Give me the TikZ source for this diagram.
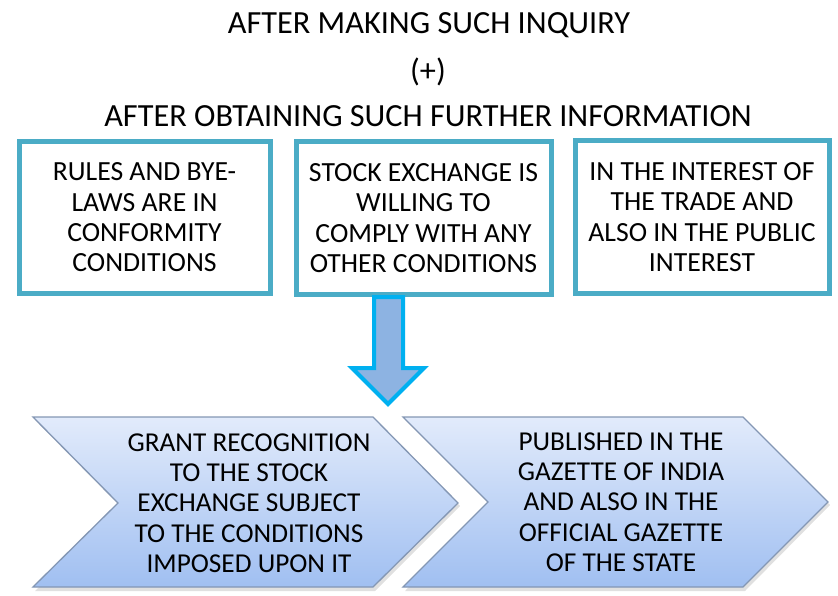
\documentclass[tikz,border=0pt]{standalone}
\usepackage{fontspec}
\setmainfont{Carlito}
\definecolor{boxedge}{HTML}{4BACC6}
\definecolor{arrowedge}{HTML}{00B0F0}
\definecolor{arrowfill}{HTML}{8DB3E2}
\definecolor{chevtop}{HTML}{E2EBFB}
\definecolor{chevbot}{HTML}{A0BFF1}
\definecolor{chevedge}{HTML}{8497B4}
\begin{document}
\begin{tikzpicture}[x=1pt,y=-1pt,
  titletext/.style={font=\fontsize{32.3}{34}\selectfont, inner sep=0pt},
  boxtext/.style={font=\fontsize{27.7}{30.3}\selectfont, align=center, inner sep=0pt},
  chevtext/.style={font=\fontsize{27.3}{30.3}\selectfont, align=center, inner sep=0pt},
  condbox/.style={draw=boxedge, line width=5pt, fill=white, minimum width=251pt, minimum height=152pt, inner sep=0pt},
  chev/.style={top color=chevtop, bottom color=chevbot, draw=chevedge, line width=1.3pt, line join=miter},
  chevshadow/.style={fill=black, opacity=0.12},
  blockarrow/.style={draw=arrowedge, fill=arrowfill, line width=4pt, line join=miter}
]
\useasboundingbox (0,0) rectangle (838,596);
% titles
\node[titletext] (t1) at (429,25) {AFTER MAKING SUCH INQUIRY};
\node[titletext] (t2) at (428,72) {(+)};
\node[titletext] (t3) at (428,116) {AFTER OBTAINING SUCH FURTHER INFORMATION};
% condition boxes
\node[condbox] (b1) at (144.5,217.5) {};
\node[condbox, minimum width=255pt] (b2) at (423.5,218) {};
\node[condbox, minimum width=254pt] (b3) at (702,217) {};
\node[boxtext] (b1t) at (b1) {RULES AND BYE-\\LAWS ARE IN\\CONFORMITY\\CONDITIONS};
\node[boxtext] (b2t) at (b2) {STOCK EXCHANGE IS\\WILLING TO\\COMPLY WITH ANY\\OTHER CONDITIONS};
\node[boxtext] (b3t) at (b3) {IN THE INTEREST OF\\THE TRADE AND\\ALSO IN THE PUBLIC\\INTEREST};
% block arrow
\coordinate (atip) at (388,404);
\draw[blockarrow] (374,297) -- (403,297) -- (403,368) -- (424,368) -- (atip) -- (352,368) -- (374,368) -- cycle;
% chevron shadows
\fill[chevshadow] (35,420) -- (375,420) -- (460,506) -- (375,591) -- (35,591) -- (120,506) -- cycle;
\fill[chevshadow] (405,420) -- (745,420) -- (830,505) -- (745,591) -- (405,591) -- (490,505) -- cycle;
% chevrons
\draw[chev] (33,417) -- (373,417) -- (458,503) -- (373,587) -- (33,587) -- (118,503) -- cycle;
\draw[chev] (403,417) -- (743,417) -- (828,502) -- (743,587) -- (403,587) -- (488,502) -- cycle;
\node[chevtext] (c1) at (249,503) {GRANT RECOGNITION\\TO THE STOCK\\EXCHANGE SUBJECT\\TO THE CONDITIONS\\IMPOSED UPON IT};
\node[chevtext] (c2) at (621,502) {PUBLISHED IN THE\\GAZETTE OF INDIA\\AND ALSO IN THE\\OFFICIAL GAZETTE\\OF THE STATE};
\end{tikzpicture}
\end{document}
